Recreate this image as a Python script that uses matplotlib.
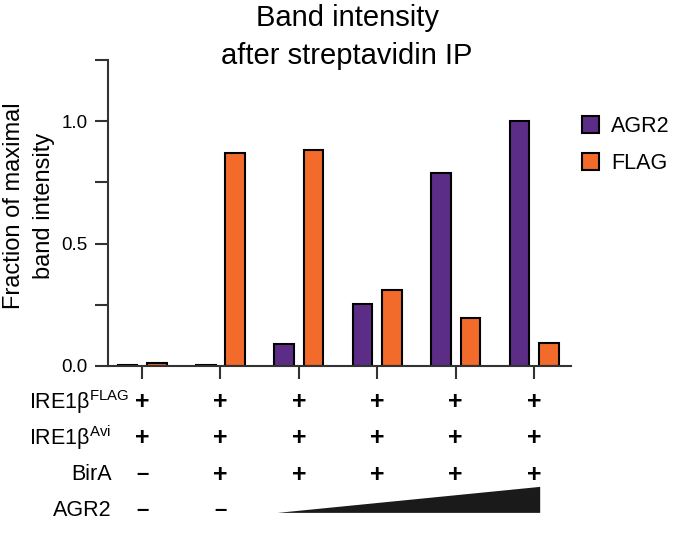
import numpy as np
import matplotlib
matplotlib.use("Agg")
import matplotlib.pyplot as plt
from matplotlib.patches import Polygon
import matplotlib.transforms as mtransforms

plt.rcParams['font.family'] = ['Liberation Sans', 'DejaVu Sans']
plt.rcParams['mathtext.fontset'] = 'custom'
plt.rcParams['mathtext.rm'] = 'Liberation Sans'

# data
groups = np.arange(6)
agr2 = [0.005, 0.006, 0.09, 0.252, 0.79, 1.0]
flag = [0.012, 0.87, 0.882, 0.309, 0.195, 0.093]
series_names = ["AGR2", "FLAG"]
colors = ["#5C2D87", "#F26B2B"]

row_labels = ["IRE1β$^{\\rm FLAG}$", "IRE1β$^{\\rm Avi}$", "BirA", "AGR2"]
row_signs = [
    ["+", "+", "+", "+", "+", "+"],
    ["+", "+", "+", "+", "+", "+"],
    ["–", "+", "+", "+", "+", "+"],
    ["–", "–", "", "", "", ""],
]

fig = plt.figure(figsize=(6.8, 5.33), dpi=100)
ax = fig.add_axes([108/680, 1-366/533, 463/680, 306/533])

w = 0.25
off = 0.1875
b1 = ax.bar(groups - off, agr2, w, color=colors[0], edgecolor="black", linewidth=1.5, label=series_names[0])
b2 = ax.bar(groups + off, flag, w, color=colors[1], edgecolor="black", linewidth=1.5, label=series_names[1])

ax.set_xlim(-0.434, 5.47)
ax.set_ylim(0, 1.25)
ax.set_xticks(groups)
ax.set_xticklabels([])
ax.set_yticks([0, 0.5, 1.0])
ax.set_yticklabels(["0.0", "0.5", "1.0"])
ax.set_yticks([0.25, 0.75, 1.25], minor=True)
for s in ["top", "right"]:
    ax.spines[s].set_visible(False)
for s in ["left", "bottom"]:
    ax.spines[s].set_linewidth(1.5)
    ax.spines[s].set_color("#333333")
ax.tick_params(axis="both", which="both", direction="out", length=9.5, width=1.5,
               color="#333333", labelsize=13.5, pad=5)

fig.text(347/680, 1-37/533, "Band intensity\nafter streptavidin IP", fontsize=21,
         linespacing=1.5, ha="center", va="center", multialignment="center")
fig.text(29/680, 1-206/533, "Fraction of maximal\nband intensity", rotation=90,
         ha="center", va="center", fontsize=17, multialignment="center", linespacing=1.5)

leg = ax.legend(handles=[b1, b2], loc="center left", bbox_to_anchor=(582/680, 1-145/533),
                bbox_transform=fig.transFigure, frameon=False, fontsize=15.5,
                handlelength=0.8, handleheight=0.8, handletextpad=0.55,
                labelspacing=0.75, borderpad=0, borderaxespad=0)

# condition table under the axis
trans = mtransforms.blended_transform_factory(ax.transData, ax.transAxes)
row_y = [-0.118, -0.235, -0.356, -0.471]
for i, (lab, signs) in enumerate(zip(row_labels, row_signs)):
    if i < 2:
        ax.text(-0.17, row_y[i], lab, transform=ax.transAxes, ha="left", va="center", fontsize=15.5)
    else:
        ax.text(0.0086, row_y[i], lab, transform=ax.transAxes, ha="right", va="center", fontsize=15.5)
    for g, sg in zip(groups, signs):
        if sg == "+":
            ax.text(g, row_y[i], sg, transform=trans, ha="center", va="center",
                    fontsize=18, fontweight="bold")
        elif sg:
            ax.text(g, row_y[i], sg, transform=trans, ha="center", va="center",
                    fontsize=16, fontweight="bold")

# increasing AGR2 wedge
wedge = Polygon([[groups[2] - 0.27, -0.480], [groups[5] + 0.077, -0.395], [groups[5] + 0.077, -0.480]],
                closed=True, transform=trans, facecolor="#1a1a1a", edgecolor="none", clip_on=False)
ax.add_patch(wedge)

fig.savefig("out.png", dpi=100)
